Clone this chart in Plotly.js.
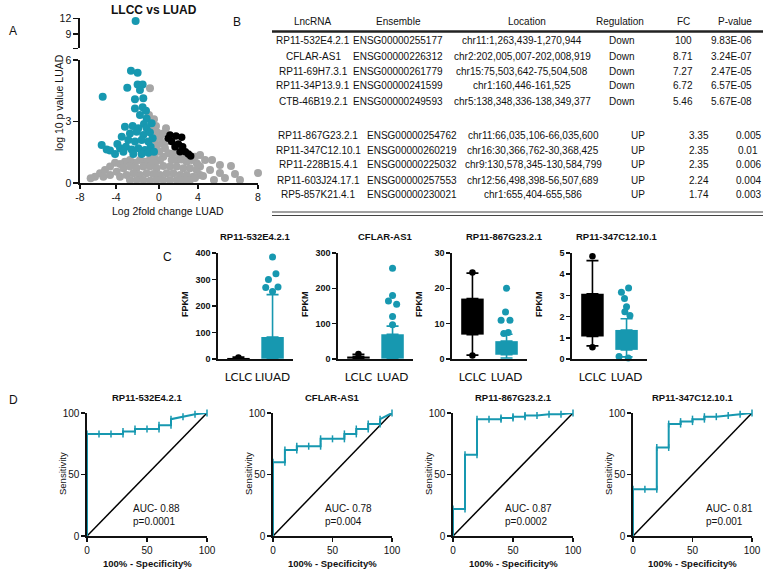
<!DOCTYPE html>
<html>
<head>
<meta charset="utf-8">
<script src="https://cdn.plot.ly/plotly-3.0.1.min.js"></script>
<style>html,body{margin:0;padding:0;background:#fff}#chart{width:767px;height:572px}</style>
</head>
<body>
<div id="chart"></div>
<script>
const W = 767, H = 572;
const TEAL = '#1798b0';
const FONT = 'Liberation Sans, Arial, sans-serif';

// ---- A: volcano
const volGrayX = [-1.71,-1.80,-1.35,-1.17,-1.05,-1.47,-0.81,-1.26,-0.51,-0.27,-0.66,-1.11,-0.21,-0.36,-0.87,-1.35,-0.06,-0.51,0.24,0.69,1.14,1.59,2.04,2.49,2.79,-0.81,-1.26,-1.71,-2.16,-2.61,-3.06,-3.51,-3.96,-4.40,-4.85,-5.30,-5.75,-6.20,-6.65,-7.04,-5.90,-5.30,-4.70,-4.10,-3.51,-2.91,-2.31,-1.71,-1.11,-0.51,0.09,0.69,1.29,1.89,2.49,2.79,2.19,1.59,0.99,0.39,-0.21,-0.81,-1.41,-2.01,-2.61,-3.21,-3.81,-4.40,-3.51,-2.91,-2.31,-1.71,-1.11,-0.51,0.09,0.69,1.29,1.89,0.39,0.99,1.59,2.34,3.24,3.69,3.06,4.04,4.58,5.57,4.58,8.0,2.61,2.34,5.03,5.93,6.38,3.87,2.79];
const volGrayY = [4.62,3.32,3.11,2.78,2.46,2.55,2.26,2.10,2.42,2.67,1.93,1.77,2.02,1.69,1.53,1.28,1.45,1.28,1.12,1.12,1.15,1.04,1.12,0.96,0.80,1.12,0.96,1.15,1.04,1.12,0.99,1.12,1.04,0.93,0.99,0.80,0.63,0.47,0.31,0.23,0.31,0.39,0.55,0.72,0.80,0.72,0.80,0.80,0.72,0.83,0.80,0.80,0.72,0.72,0.63,0.39,0.31,0.39,0.39,0.47,0.47,0.39,0.44,0.47,0.39,0.47,0.39,0.31,0.15,0.15,0.15,0.11,0.15,0.15,0.15,0.15,0.11,0.15,1.45,1.41,1.28,1.28,1.12,0.63,0.34,0.15,0.49,0.83,0.88,0.49,0.88,0.24,0.24,0.44,0.15,1.12,1.37];
const volTealX = [-3.42,-2.82,-3.75,-2.82,-2.37,-2.61,-3.06,-2.31,-5.96,-3.06,-2.37,-2.07,-2.61,-2.01,-2.25,-1.56,-3.96,-3.27,-2.76,-2.01,-3.51,-2.91,-2.31,-1.71,-4.25,-3.66,-3.06,-2.46,-1.86,-1.47,-6.05,-5.60,-4.64,-4.40,-4.85,-3.87,-3.36,-2.76,-2.16,-1.65,-4.10,-3.21,-2.46,-1.86,-1.35,-5.30];
const volTealY = [5.48,5.38,4.65,4.81,4.81,4.54,4.08,4.13,4.21,3.64,3.69,3.53,3.32,3.15,2.88,2.91,2.75,2.78,2.67,2.67,2.42,2.50,2.34,2.46,2.26,2.10,2.02,2.10,2.02,2.18,1.85,1.64,1.90,1.69,1.41,1.77,1.64,1.69,1.61,1.77,1.53,1.41,1.41,1.48,1.53,1.58];
const volTopX = [-3.0];
const volTopY = [11.5];
const volBlackX = [0.09,0.63,1.14,0.24,0.84,1.23,0.99,1.47,1.74,1.95,0.54,-0.06];
const volBlackY = [2.34,2.29,2.23,2.02,1.90,1.77,1.53,1.53,1.41,1.32,1.77,2.18];
const volTickLabels = ['-8','-4','0','4','8'];

// ---- B: table
const tblHead = ['LncRNA','Ensemble','Location','Regulation','FC','P-value'];
const tblLnc = ['RP11-532E4.2.1','CFLAR-AS1','RP11-69H7.3.1','RP11-34P13.9.1','CTB-46B19.2.1','RP11-867G23.2.1','RP11-347C12.10.1','RP11-228B15.4.1','RP11-603J24.17.1','RP5-857K21.4.1'];
const tblEns = ['ENSG00000255177','ENSG00000226312','ENSG00000261779','ENSG00000241599','ENSG00000249593','ENSG00000254762','ENSG00000260219','ENSG00000225032','ENSG00000257553','ENSG00000230021'];
const tblLoc = ['chr11:1,263,439-1,270,944','chr2:202,005,007-202,008,919','chr15:75,503,642-75,504,508','chr1:160,446-161,525','chr5:138,348,336-138,349,377','chr11:66,035,106-66,035,600','chr16:30,366,762-30,368,425','chr9:130,578,345-130,584,799','chr12:56,498,398-56,507,689','chr1:655,404-655,586'];
const tblReg = ['Down','Down','Down','Down','Down','UP','UP','UP','UP','UP'];
const tblFC = ['100','8.71','7.27','6.72','5.46','3.35','2.35','2.35','2.24','1.74'];
const tblP = ['9.83E-06','3.24E-07','2.47E-05','6.57E-05','5.67E-08','0.005','0.01','0.006','0.004','0.003'];

// ---- C: FPKM boxes, [LCLC, LUAD] per gene
const cTitles = ['RP11-532E4.2.1','CFLAR-AS1','RP11-867G23.2.1','RP11-347C12.10.1'];
const cGroups = [['LCLC','LIUAD'],['LCLC','LUAD'],['LCLC','LUAD'],['LCLC','LUAD']];
const cYMax = [400,300,30,5];
const cYStep = [100,100,10,1];
const cQ1 = [[0,1],[1,1],[6.9,1.2],[1.06,0.43]];
const cQ3 = [[4,83],[7,70],[17.1,5.05],[3.08,1.37]];
const cLo = [[0,0],[0,0],[1.1,0.3],[0.62,0.1]];
const cHi = [[7,243],[13,93],[24.3,7.0],[4.64,1.9]];
const cLclcDots = [[6],[14],[24.5,1.0],[4.85,0.55]];
const cLuadDots = [[385,322,300,270,272,255],[257,180,164,155,120,97],[20,13.3,11,11,7.5,7.2],[3.35,3.15,2.85,2.46,2.23,2.05,0.12,0.05]];
const cLuadDx = [[0,0.1,-0.12,-0.2,0.16,0],[0,0,-0.12,0.12,0,0],[0,-0.03,-0.16,0.1,0.05,-0.08],[0.06,-0.15,-0.06,0,-0.05,0.1,-0.22,0.05]];

// ---- D: ROC
const dTitles = cTitles;
const rocX = [
  [0,0,10,20,30,30,40,40,50,60,60,70,70,80,90,100],
  [0,0,10,10,20,20,30,40,40,50,60,60,70,70,80,80,90,90,100],
  [0,0,10,10,20,20,30,40,40,50,50,60,60,70,80,90,100],
  [0,0,10,20,20,30,30,40,40,50,50,60,60,70,80,90,100]
];
const rocY = [
  [0,83,83,83,83,85,85,87,87,87,90,90,95,97,99,100],
  [0,60,60,70,70,73,73,73,79,79,79,83,83,87,87,91,91,95,100],
  [0,22,22,66,66,95,95,95,96,96,97,97,98,98,99,99,100],
  [0,38,38,38,72,72,91,91,93,93,95,95,97,97,98,99,100]
];
const rocAUC = ['AUC- 0.88','AUC- 0.78','AUC- 0.87','AUC- 0.81'];
const rocP = ['p=0.0001','p=0.004','p=0.0002','p=0.001'];

const data = [];
const layout = {
  width: W, height: H, margin: {l:0,r:0,t:0,b:0}, showlegend: false,
  paper_bgcolor: '#fff', plot_bgcolor: 'rgba(0,0,0,0)', barmode: 'overlay',
  font: {family: FONT, color: '#111'}, annotations: [], shapes: []
};

function ann(text, x, y, o){
  layout.annotations.push(Object.assign({text: text, x: x/W, y: 1-y/H, xref: 'paper', yref: 'paper',
    showarrow: false, xanchor: 'center', yanchor: 'middle', font: {size: 9.5, color: '#111'}}, o||{}));
}
function hline(x0, x1, y, w, c){
  layout.shapes.push({type:'line', xref:'paper', yref:'paper', x0:x0/W, x1:x1/W, y0:1-y/H, y1:1-y/H, line:{color:c||'#222', width:w}});
}
function ax(extra){
  return Object.assign({showline:true, linecolor:'#111', linewidth:1.6, ticks:'outside', ticklen:4, tickwidth:1.5,
    tickcolor:'#111', showgrid:false, zeroline:false, fixedrange:true}, extra);
}
function dom(a, b, n){ return [a/n, b/n]; }
function domY(top, bottom){ return [1-bottom/H, 1-top/H]; }

// A  (the printed x axis is uneven: ticks sit where the figure draws them)
layout.xaxis = ax({domain: dom(80,258,W), range:[-8,8], tickvals:[-8,-4.76,-0.9,2.61,8], ticktext:volTickLabels,
  anchor:'y', tickfont:{size:10.5}, ticklen:4, tickangle:0});
layout.yaxis = ax({domain: domY(60,183), range:[0,6], tickvals:[0,3,6], anchor:'x', tickfont:{size:10.5}, ticklen:5});
layout.yaxis2 = ax({domain: domY(18.3,48.3), range:[6.27,12], tickvals:[6.27,9,12], ticktext:['','9','12'], anchor:'x', tickfont:{size:10.5}, ticklen:5});
data.push({type:'scatter', mode:'markers', x:volGrayX, y:volGrayY, xaxis:'x', yaxis:'y', cliponaxis:false, marker:{size:8, color:'#a6a6a6'}});
data.push({type:'scatter', mode:'markers', x:volTealX, y:volTealY, xaxis:'x', yaxis:'y', cliponaxis:false, marker:{size:8, color:TEAL}});
data.push({type:'scatter', mode:'markers', x:volTopX, y:volTopY, xaxis:'x', yaxis:'y2', cliponaxis:false, marker:{size:8, color:TEAL}});
data.push({type:'scatter', mode:'markers', x:volBlackX, y:volBlackY, xaxis:'x', yaxis:'y', cliponaxis:false, marker:{size:7.5, color:'#000'}});
ann('<b>LLCC vs LUAD</b>', 154, 10, {font:{size:12}});
ann('log 10 p value LUAD', 59, 103, {textangle:-90, font:{size:10.5}});
ann('Log 2fold change LUAD', 168, 211, {font:{size:10.5}});
ann('A', 13, 31, {font:{size:12}});

// B
ann('B', 237, 22, {font:{size:12}});
const headX = [313,398,527,620,683,735];
const downX = [313,398,522,622,683,731];
const upX = [318,412,533,638,699,748];
const rowY = [41,56,71,86,101,135,150,165,180,195];
tblHead.forEach((h,i)=>ann(h, headX[i], 22, {font:{size:10}}));
tblLnc.forEach((name,i)=>{
  const cx = tblReg[i] === 'UP' ? upX : downX;
  [name, tblEns[i], tblLoc[i], tblReg[i], tblFC[i], tblP[i]].forEach((t,j)=>ann(t, cx[j], rowY[i], {font:{size:10}}));
});
hline(272, 763, 31.5, 2.5, '#222');
hline(272, 763, 212, 1.2, '#444');
hline(272, 763, 215.5, 1.2, '#444');

// C
const cDomX = [[218,293],[338,413],[452,527],[572,647]];
const cTitleX = [255,385,505,617];
ann('C', 167, 257, {font:{size:12}});
cTitles.forEach((t,i)=>{
  const xi = i+2, yi = i+3;
  const xa = 'x'+xi, ya = 'y'+yi;
  layout['xaxis'+xi] = ax({domain: dom(cDomX[i][0], cDomX[i][1], W), range:[-0.6,1.6], tickvals:[0,1], ticktext:cGroups[i],
    ticks:'', tickangle:0, ticklabelstandoff:6, anchor:ya, tickfont:{family:'Lato, sans-serif', size:12}});
  layout['yaxis'+yi] = ax({domain: domY(253,359), range:[0,cYMax[i]], dtick:cYStep[i], anchor:xa,
    tickfont:{size:9, weight:'bold'}});
  data.push({type:'bar', x:[0,1], base:cQ1[i], y:[cQ3[i][0]-cQ1[i][0], cQ3[i][1]-cQ1[i][1]], width:0.66,
    xaxis:xa, yaxis:ya, marker:{color:['#000',TEAL], line:{width:0}}});
  [0,1].forEach(g=>{
    const col = g === 0 ? '#000' : TEAL;
    data.push({type:'scatter', mode:'markers', x:[g,g], y:[cQ3[i][g], cQ1[i][g]], xaxis:xa, yaxis:ya, cliponaxis:false,
      marker:{size:1, opacity:0},
      error_y:{type:'data', symmetric:false, array:[cHi[i][g]-cQ3[i][g], 0], arrayminus:[0, cQ1[i][g]-cLo[i][g]],
        color:col, thickness:1.6, width:6}});
  });
  data.push({type:'scatter', mode:'markers', x:cLclcDots[i].map(()=>0), y:cLclcDots[i], xaxis:xa, yaxis:ya, cliponaxis:false,
    marker:{size:6.5, color:'#000'}});
  data.push({type:'scatter', mode:'markers', x:cLuadDx[i].map(d=>1+d), y:cLuadDots[i], xaxis:xa, yaxis:ya, cliponaxis:false,
    marker:{size:7, color:TEAL}});
  ann('<b>'+t+'</b>', cTitleX[i], 236);
  ann('<b>FPKM</b>', cDomX[i][0]-33, 304, {textangle:-90, font:{size:9}});
});

// D
const dDomX = [[87,207],[273,392],[453,573],[633,752]];
const aucX = [37,42,42,60];
ann('D', 13, 400, {font:{size:12}});
dTitles.forEach((t,i)=>{
  const xi = i+6, yi = i+7;
  const xa = 'x'+xi, ya = 'y'+yi;
  layout['xaxis'+xi] = ax({domain: dom(dDomX[i][0], dDomX[i][1], W), range:[0,100], tickvals:[0,50,100], anchor:ya, tickfont:{size:10}});
  layout['yaxis'+yi] = ax({domain: domY(413,536), range:[0,100], tickvals:[0,50,100], anchor:xa, tickfont:{size:10}});
  data.push({type:'scatter', mode:'lines', x:[0,100], y:[0,100], xaxis:xa, yaxis:ya, line:{color:'#000', width:1.5}});
  data.push({type:'scatter', mode:'lines+markers', x:rocX[i], y:rocY[i], xaxis:xa, yaxis:ya, cliponaxis:false,
    line:{color:TEAL, width:2}, marker:{symbol:'line-ns-open', size:5, color:TEAL, line:{color:TEAL, width:1.5}}});
  const cx = (dDomX[i][0]+dDomX[i][1])/2;
  ann('<b>'+t+'</b>', cx, 397);
  ann('Sensitivity', dDomX[i][0]-25, 474, {textangle:-90});
  ann('<b>100% - Specificity%</b>', cx, 563);
  layout.annotations.push({text: rocAUC[i]+'<br>'+rocP[i], x: aucX[i], y: 17, xref: xa, yref: ya, showarrow:false,
    xanchor:'left', yanchor:'middle', align:'left', font:{size:10, color:'#111'}});
});

Plotly.newPlot('chart', data, layout, {staticPlot:true, displayModeBar:false});
</script>
</body>
</html>
